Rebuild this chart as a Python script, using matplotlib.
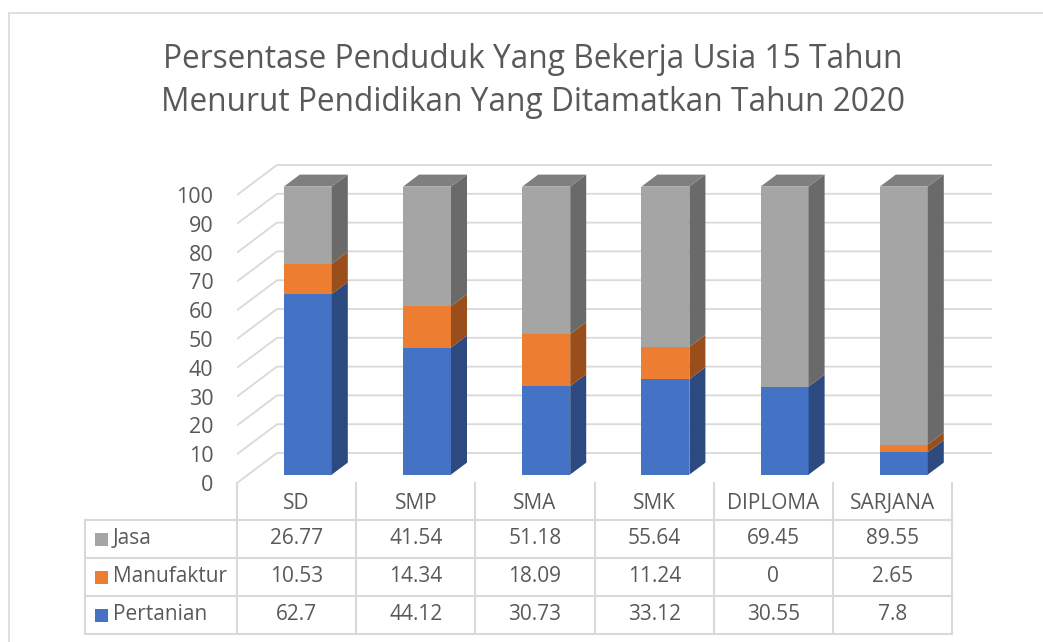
import numpy as np
import matplotlib.pyplot as plt
from matplotlib.patches import Polygon, Rectangle

plt.rcParams['font.family'] = ['Open Sans', 'DejaVu Sans']

# data
categories = ["SD", "SMP", "SMA", "SMK", "DIPLOMA", "SARJANA"]
series_names = ["Jasa", "Manufaktur", "Pertanian"]
pertanian = [62.7, 44.12, 30.73, 33.12, 30.55, 7.8]
manufaktur = [10.53, 14.34, 18.09, 11.24, 0, 2.65]
jasa = [26.77, 41.54, 51.18, 55.64, 69.45, 89.55]
yticks = list(range(0, 101, 10))

# face colours (front, side, top)
colors = {
    "Pertanian": ("#4472C4", "#2C4A80", "#3A62A8"),
    "Manufaktur": ("#ED7D31", "#9A4E1C", "#C8692A"),
    "Jasa": ("#A5A5A5", "#6A6A6A", "#7F7F7F"),
}
text_col = "#595959"
grid_col = "#D9D9D9"

W, H = 1043, 642
fig = plt.figure(figsize=(W / 100, H / 100), dpi=100)

def fx(px):
    return px / W

def fy(py):
    return 1 - py / H

# outer chart border
fig.patches.append(Rectangle((fx(9), fy(700)), fx(1100), fy(13) - fy(700),
                             transform=fig.transFigure, fill=False,
                             edgecolor="#D9D9D9", lw=1.2))

fig.text(fx(533), fy(81), "Persentase Penduduk Yang Bekerja Usia 15 Tahun\n"
         "Menurut Pendidikan Yang Ditamatkan Tahun 2020",
         ha="center", va="center", fontsize=22.8, color=text_col, linespacing=1.4)

# main plot axes, scale: 119.2 px per category, 2.88 px per percent
PXX, PXY = 119.2, 2.88
left_px, right_px, top_px, bot_px = 237, 1000, 150, 483
ax = fig.add_axes([fx(left_px), fy(bot_px), fx(right_px - left_px), fy(top_px) - fy(bot_px)])
ax.set_xlim(-0.5, -0.5 + (right_px - left_px) / PXX)
ax.set_ylim(0, (bot_px - top_px) / PXY)
for s in ax.spines.values():
    s.set_visible(False)
ax.set_xticks([])
ax.set_yticks(yticks)
ax.tick_params(axis="y", length=0, pad=17, labelsize=15.5, labelcolor=text_col)
ax.patch.set_alpha(0)

# depth offsets (oblique projection)
DX, DY = 40 / PXX, 30 / PXY
f1, f2 = 0.28, 0.68
bw = 48 / PXX

n = len(categories)
# gridlines on left wall and back wall
for v in yticks:
    ax.plot([-0.5, -0.5 + DX, n - 0.5 + DX], [v, v + DY, v + DY],
            color=grid_col, lw=1.3, zorder=1, solid_capstyle="butt")

x = np.arange(n)
xf = x + f1 * DX
stack = [("Pertanian", pertanian), ("Manufaktur", manufaktur), ("Jasa", jasa)]
bottom = np.zeros(n)
for name, vals in stack:
    vals = np.array(vals, dtype=float)
    front, side, top = colors[name]
    ax.bar(xf, vals, width=bw, bottom=bottom + f1 * DY, color=front,
           linewidth=0, zorder=3)
    ddx, ddy = (f2 - f1) * DX, (f2 - f1) * DY
    for i in range(n):
        if vals[i] <= 0:
            continue
        xr = xf[i] + bw / 2
        b = bottom[i] + f1 * DY
        t = b + vals[i]
        ax.add_patch(Polygon([(xr, b), (xr, t), (xr + ddx, t + ddy), (xr + ddx, b + ddy)],
                             closed=True, facecolor=side, lw=0, zorder=3))
    bottom = bottom + vals

# top faces of the stacks
for i in range(n):
    xl = xf[i] - bw / 2
    xr = xf[i] + bw / 2
    t = bottom[i] + f1 * DY
    ddx, ddy = (f2 - f1) * DX, (f2 - f1) * DY
    ax.add_patch(Polygon([(xl, t), (xr, t), (xr + ddx, t + ddy), (xl + ddx, t + ddy)],
                         closed=True, facecolor=colors["Jasa"][2], lw=0, zorder=3))

# data table, same x scale as the plot, y in pixels below the plot
tab = fig.add_axes([fx(left_px), fy(642), fx(right_px - left_px), fy(bot_px) - fy(642)])
tab.set_xlim(ax.get_xlim())
tab.set_ylim(642 - bot_px, 0)
tab.axis("off")

row_edges = [520, 558, 596, 634]
row_edges = [r - bot_px for r in row_edges]
tab_left = -0.5 - (237 - 85) / PXX
tab_right = n - 0.5
lw_t = 1.5
for r in row_edges:
    tab.plot([tab_left, tab_right], [r, r], color=grid_col, lw=lw_t, clip_on=False)
tab.plot([tab_left, tab_left], [row_edges[0], row_edges[-1]], color=grid_col, lw=lw_t, clip_on=False)
for k in range(n + 1):
    xx = -0.5 + k
    tab.plot([xx, xx], [0, row_edges[-1]], color=grid_col, lw=lw_t, clip_on=False)

for i, c in enumerate(categories):
    tab.text(i, (0 + row_edges[0]) / 2 + 2, c, ha="center", va="center",
             fontsize=15, color=text_col)

rows = [("Jasa", jasa), ("Manufaktur", manufaktur), ("Pertanian", pertanian)]
for j, (name, vals) in enumerate(rows):
    yc = (row_edges[j] + row_edges[j + 1]) / 2
    for i, v in enumerate(vals):
        tab.text(i, yc, f"{v:g}", ha="center", va="center", fontsize=15, color=text_col)
    # legend key
    kx = tab_left + 10 / PXX
    tab.add_patch(Rectangle((kx, yc - 6.5), 13 / PXX, 13, facecolor=colors[name][0],
                            lw=0, clip_on=False))
    tab.text(tab_left + 28 / PXX, yc, name, ha="left", va="center",
             fontsize=15, color=text_col, clip_on=False)

fig.savefig("out.png", dpi=100)
